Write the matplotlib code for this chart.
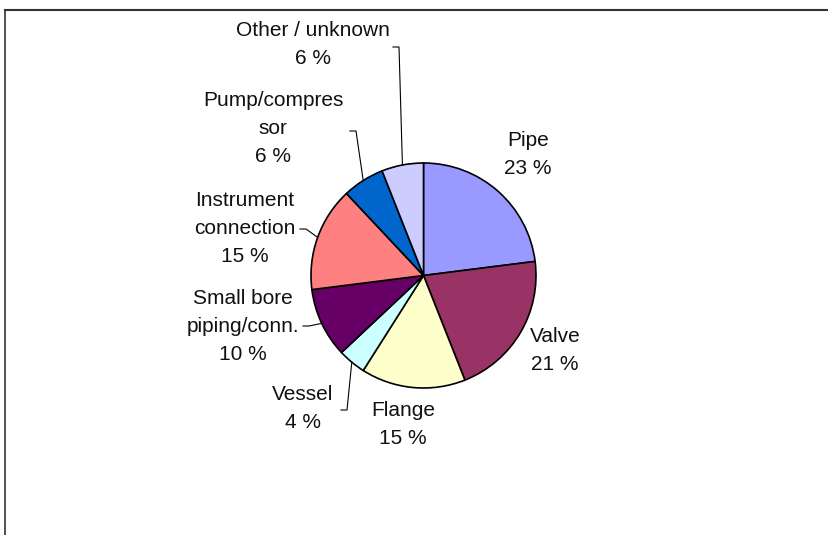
import numpy as np
import matplotlib.pyplot as plt
from matplotlib.lines import Line2D

plt.rcParams['font.family'] = ['Liberation Sans', 'DejaVu Sans']

W, H = 829, 535

# leak share by equipment type, clockwise from 12 o'clock
labels = ['Pipe', 'Valve', 'Flange', 'Vessel', 'Small bore\npiping/conn.',
          'Instrument\nconnection', 'Pump/compres\nsor', 'Other / unknown']
shares = [23, 21, 15, 4, 10, 15, 6, 6]
colors = ['#9999FF', '#993366', '#FFFFCC', '#CCFFFF', '#660066',
          '#FF8080', '#0066CC', '#CCCCFF']

# label block centres in pixels (x, y from top)
label_pos = [(528, 155), (555, 351), (403, 424), (303, 408), (243, 326),
             (245, 228), (273, 129), (313, 44)]
# leader line start (text side) for the small slices, None = no leader
leader_start = [None, None, None, (341, 410), (303, 326),
                (300, 229), (350, 131), (393, 47)]

center = (423.5, H - 275.5)
radius = 112.5

fig = plt.figure(figsize=(W / 100, H / 100), dpi=100)
ax = fig.add_axes([0, 0, 1, 1])

wedges, _ = ax.pie(shares, colors=colors, startangle=90, counterclock=False,
                   center=center, radius=radius, frame=True,
                   wedgeprops=dict(edgecolor='black', linewidth=1.2))

for w, lab, val, (lx, ly), ls in zip(wedges, labels, shares, label_pos, leader_start):
    ax.text(lx, H - ly, f'{lab}\n{val} %', ha='center', va='center',
            fontsize=15, linespacing=1.6, color='#111111')
    if ls is None:
        continue
    mid = np.deg2rad((w.theta1 + w.theta2) / 2)
    px = center[0] + radius * np.cos(mid)
    py = center[1] + radius * np.sin(mid)
    sx, sy = ls[0], H - ls[1]
    ex = sx + 6
    ax.add_line(Line2D([sx, ex, px], [sy, sy, py], color='black', linewidth=0.8))

# chart area border (top and left only)
ax.add_line(Line2D([5, W], [H - 10, H - 10], color='#333333', linewidth=1.5))
ax.add_line(Line2D([5, 5], [H - 10, 0], color='#333333', linewidth=1.2))

ax.set_xlim(0, W)
ax.set_ylim(0, H)
ax.set_aspect('equal')
ax.axis('off')

fig.savefig('out.png', dpi=100)
